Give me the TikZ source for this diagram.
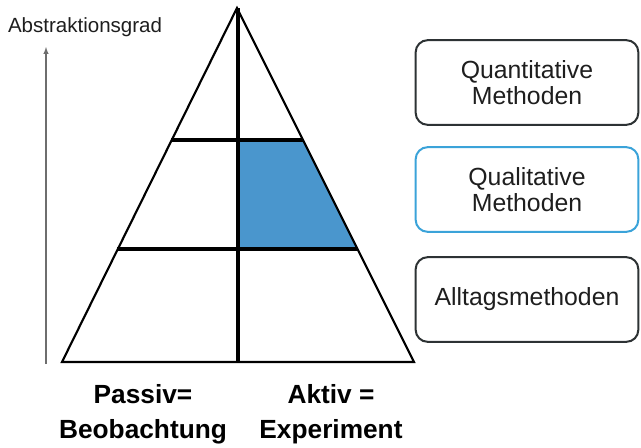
\documentclass[tikz,border=0pt]{standalone}
\usepackage{fontspec}
\setmainfont{Liberation Sans}
\newcommand*{\axisfont}{\fontsize{15.4}{18}\selectfont}
\newcommand*{\boxfont}{\fontsize{18.6}{19}\selectfont}
\newcommand*{\basefont}{\fontsize{19.7}{26}\selectfont\bfseries}
\definecolor{fillblue}{RGB}{74,150,205}
\definecolor{edgeblue}{RGB}{59,163,217}
\definecolor{edgegrey}{RGB}{45,50,52}
\definecolor{textgrey}{RGB}{30,30,30}
\definecolor{axisgrey}{RGB}{110,110,110}
\usetikzlibrary{arrows}
\usetikzlibrary{positioning}
\tikzstyle{base}=[x=0.75pt, y=-0.75pt, inner sep=0pt, outer sep=0pt]
\tikzstyle{methodbox}=[draw=edgegrey, line width=1.5pt, rounded corners=9pt,
    minimum width=167pt, minimum height=63.5pt, align=center, text=textgrey, font=\boxfont]
\tikzstyle{level}=[line width=2.4pt, black]

\begin{document}
\begin{tikzpicture}[base]
    \path [use as bounding box] (0,0) rectangle (641,447);
        \fill [fillblue] (238,140) -- (303,140) -- (357,249) -- (238,249) -- cycle;
        \draw [line width=1.6pt, black, line join=miter] (237,8) -- (62,362) -- (414,362) -- cycle;
        \draw [level] (171,140) -- (303,140);
        \draw [level] (117,249) -- (357,249);
        \draw [level] (238,8) -- (238,362);
        \coordinate (axisbottom) at (46,364);
        \coordinate (axistop) at (46,47);
        \draw [axisgrey, line width=0.8pt, -latex] (axisbottom) -- (axistop);
        \node [anchor=base west, text=textgrey, font=\axisfont] (axis) at (8,32) {Abstraktionsgrad};
        \node [methodbox] (quanti) at (527,82.5) {Quantitative\\Methoden};
        \node [methodbox, draw=edgeblue] (quali) at (527,189.5) {Qualitative\\Methoden};
        \node [methodbox] (alltag) at (527,299.5) {Alltagsmethoden};
        \node [align=center, text=black, font=\basefont] (passiv) at (143,414) {Passiv=\\Beobachtung};
        \node [align=center, text=black, font=\basefont] (aktiv) at (331,414) {Aktiv =\\Experiment};
    \end{tikzpicture}
\end{document}
